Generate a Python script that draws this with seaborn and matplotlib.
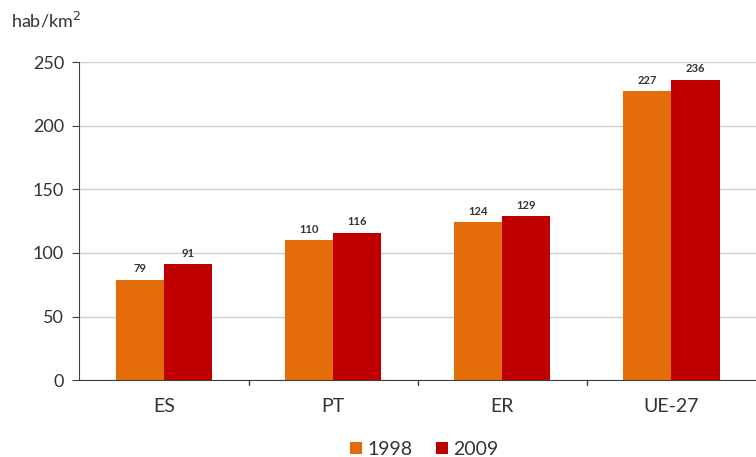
import pandas as pd
import matplotlib.pyplot as plt
import seaborn as sns

sns.set_style("white")
plt.rcParams["font.family"] = ["Lato", "DejaVu Sans"]

# data
regions = ["ES", "PT", "ER", "UE-27"]
years = ["1998", "2009"]
dens_1998 = [79, 110, 124, 227]
dens_2009 = [91, 116, 129, 236]

df = pd.DataFrame({
    "region": regions * 2,
    "year": [years[0]] * 4 + [years[1]] * 4,
    "dens": dens_1998 + dens_2009,
})

fig = plt.figure(figsize=(7.56, 4.57), dpi=100)
ax = fig.add_axes([0.105, 0.168, 0.895, 0.696])

sns.barplot(data=df, x="region", y="dens", hue="year", order=regions,
            hue_order=years, palette=["#E46C0A", "#C00000"],
            width=0.57, saturation=1, linewidth=0, ax=ax, legend=True)

ax.set_ylim(0, 250)
ax.set_xlim(-0.5, 3.5)
ax.set_yticks(range(0, 251, 50))
ax.yaxis.grid(True, color="#cfcfcf", linewidth=1)
ax.set_axisbelow(True)
for s in ["top", "right"]:
    ax.spines[s].set_visible(False)
ax.spines["left"].set_color("#404040")
ax.spines["bottom"].set_color("#404040")
ax.tick_params(axis="y", labelsize=13, length=5, color="#404040", left=True,
               pad=6, labelcolor="#333333")
ax.tick_params(axis="x", labelsize=14, length=0, pad=13, labelcolor="#333333")
ax.set_xlabel("")
ax.set_ylabel("")

# group separator ticks on x axis
for b in [0.5, 1.5, 2.5]:
    ax.plot([b, b], [0, -4], color="#404040", lw=1, clip_on=False)

for cont in ax.containers:
    ax.bar_label(cont, fmt="%d", fontsize=8, fontweight="bold", padding=4,
                 color="#333333")

leg = ax.legend(loc="upper center", bbox_to_anchor=(0.51, -0.135), ncol=2,
                frameon=False, fontsize=14, handlelength=0.6, handleheight=0.6,
                handletextpad=0.3, columnspacing=1.2)
for t in leg.get_texts():
    t.set_color("#333333")

fig.text(0.015, 0.955, "hab/km$^2$", fontsize=13, ha="left", va="center",
         color="#333333")

fig.savefig("out.png", dpi=100)
